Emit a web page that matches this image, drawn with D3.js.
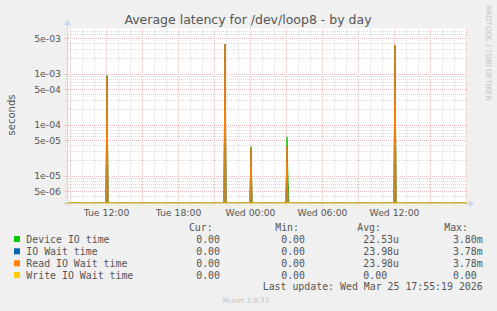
<!DOCTYPE html>
<html>
<head>
<meta charset="utf-8">
<script src="https://cdn.jsdelivr.net/npm/d3@7"></script>
<style>
  body { margin: 0; background: #f0f0f0; }
  svg { display: block; }
  text { white-space: pre; }
</style>
</head>
<body>
<div id="chart"></div>
<script>
// munin diskstats latency, one day, log scale

// spike samples (5 min resolution), zeros around each spike
var deviceIO = [
  ["2026-03-24T08:45", 0],
  ["2026-03-24T12:00", 0], ["2026-03-24T12:05", 9.3e-4], ["2026-03-24T12:10", 0],
  ["2026-03-24T21:50", 0], ["2026-03-24T21:55", 3.80e-3], ["2026-03-24T22:00", 0],
  ["2026-03-25T00:00", 0], ["2026-03-25T00:05", 3.7e-5], ["2026-03-25T00:10", 0],
  ["2026-03-25T03:00", 0], ["2026-03-25T03:05", 5.7e-5], ["2026-03-25T03:10", 8e-6], ["2026-03-25T03:15", 0],
  ["2026-03-25T12:00", 0], ["2026-03-25T12:05", 3.5e-3], ["2026-03-25T12:10", 0],
  ["2026-03-25T18:05", 0]
];
var ioWait = [
  ["2026-03-24T08:45", 0],
  ["2026-03-24T12:00", 0], ["2026-03-24T12:05", 8.8e-4], ["2026-03-24T12:10", 0],
  ["2026-03-24T21:50", 0], ["2026-03-24T21:55", 3.78e-3], ["2026-03-24T22:00", 0],
  ["2026-03-25T00:00", 0], ["2026-03-25T00:05", 3.5e-5], ["2026-03-25T00:10", 0],
  ["2026-03-25T03:00", 0], ["2026-03-25T03:05", 3.8e-5], ["2026-03-25T03:10", 0],
  ["2026-03-25T12:00", 0], ["2026-03-25T12:05", 3.65e-3], ["2026-03-25T12:10", 0],
  ["2026-03-25T18:05", 0]
];
var readWait = ioWait.slice();
var writeWait = [["2026-03-24T08:45", 0], ["2026-03-25T18:05", 0]];

var seriesNames = ["Device IO time", "IO Wait time", "Read IO Wait time", "Write IO Wait time"];
var seriesColors = ["#00cc00", "#0066b3", "#ff8000", "#ffcc00"];
var seriesData = [deviceIO, ioWait, readWait, writeWait];

var curValues = ["0.00", "0.00", "0.00", "0.00"];
var minValues = ["0.00", "0.00", "0.00", "0.00"];
var avgValues = ["22.53u", "23.98u", "23.98u", "0.00  "];
var maxValues = ["3.80m", "3.78m", "3.78m", "0.00 "];

var yTickValues = [5e-3, 1e-3, 5e-4, 1e-4, 5e-5, 1e-5, 5e-6];
var yTickLabels = ["5e-03", "1e-03", "5e-04", "1e-04", "5e-05", "1e-05", "5e-06"];
var xLabelTimes = ["2026-03-24T12:00", "2026-03-24T18:00", "2026-03-25T00:00", "2026-03-25T06:00", "2026-03-25T12:00"];
var xLabelText = ["Tue 12:00", "Tue 18:00", "Wed 00:00", "Wed 06:00", "Wed 12:00"];

var svgWidth = 497, svgHeight = 311;
var plot = { left: 67, right: 467, top: 28, bottom: 203 };

var parse = d3.isoParse;

var svg = d3.select("#chart").append("svg")
    .attr("width", svgWidth)
    .attr("height", svgHeight)
    .style("background", "#f0f0f0");

var xScale = d3.scaleTime()
    .domain([parse("2026-03-24T08:45"), parse("2026-03-25T18:05")])
    .range([plot.left, plot.right]);

var yScale = d3.scaleLog()
    .domain([2.92e-6, 7.87e-3])
    .range([plot.bottom, plot.top])
    .clamp(true);

// plot background
svg.append("rect")
    .attr("x", plot.left).attr("y", plot.top)
    .attr("width", plot.right - plot.left).attr("height", plot.bottom - plot.top)
    .attr("fill", "#ffffff");

// minor / major horizontal grid
var decades = [1e-6, 1e-5, 1e-4, 1e-3];
var minorY = [];
decades.forEach(function(d) {
  [2, 3, 4, 6, 7, 8, 9].forEach(function(m) { minorY.push(d * m); });
});
minorY = minorY.filter(function(v) { return v > 2.92e-6 && v < 7.87e-3; });

var minorColor = "#dcdcdc", majorColor = "#f0bcbc";

var grid = svg.append("g");
grid.selectAll(".hminor").data(minorY).enter().append("line")
    .attr("x1", plot.left - 2).attr("x2", plot.right)
    .attr("y1", d => Math.round(yScale(d)) + 0.5).attr("y2", d => Math.round(yScale(d)) + 0.5)
    .attr("stroke", minorColor).attr("stroke-dasharray", "1,1");

var hourTicks = d3.timeHour.every(1).range(xScale.domain()[0], xScale.domain()[1]);
var minorX = hourTicks.filter(d => d.getHours() % 3 != 0);
var majorX = hourTicks.filter(d => d.getHours() % 3 == 0);

grid.selectAll(".vminor").data(minorX).enter().append("line")
    .attr("x1", d => Math.round(xScale(d)) + 0.5).attr("x2", d => Math.round(xScale(d)) + 0.5)
    .attr("y1", plot.top).attr("y2", plot.bottom + 2)
    .attr("stroke", minorColor).attr("stroke-dasharray", "1,1");

grid.selectAll(".vmajor").data(majorX).enter().append("line")
    .attr("x1", d => Math.round(xScale(d)) + 0.5).attr("x2", d => Math.round(xScale(d)) + 0.5)
    .attr("y1", plot.top).attr("y2", plot.bottom + 3)
    .attr("stroke", majorColor).attr("stroke-dasharray", "1,1");

grid.selectAll(".hmajor").data(yTickValues).enter().append("line")
    .attr("x1", plot.left - 3).attr("x2", plot.right)
    .attr("y1", d => Math.round(yScale(d)) + 0.5).attr("y2", d => Math.round(yScale(d)) + 0.5)
    .attr("stroke", majorColor).attr("stroke-dasharray", "1,1");

// data lines
svg.append("clipPath").attr("id", "clip")
  .append("rect")
    .attr("x", plot.left).attr("y", plot.top)
    .attr("width", plot.right - plot.left).attr("height", plot.bottom - plot.top);

var drawLine = d3.line()
    .x(d => xScale(parse(d[0])))
    .y(d => d[1] > 0 ? yScale(d[1]) : plot.bottom);

var lines = svg.append("g").attr("clip-path", "url(#clip)");
seriesData.forEach(function(data, i) {
  lines.append("path")
      .datum(data)
      .attr("d", drawLine)
      .attr("fill", "#8a9a3c")
      .attr("fill-opacity", 0.6)
      .attr("stroke", seriesColors[i])
      .attr("stroke-width", 1);
});

// axes
svg.append("line")
    .attr("x1", plot.left - 3).attr("x2", plot.right + 2)
    .attr("y1", plot.bottom + 0.5).attr("y2", plot.bottom + 0.5)
    .attr("stroke", "#d8d0a0");
svg.append("path")
    .attr("d", `M${plot.right + 2},${plot.bottom - 3} L${plot.right + 7},${plot.bottom + 0.5} L${plot.right + 2},${plot.bottom + 4} Z`)
    .attr("fill", "#c8d2f4");
svg.append("line")
    .attr("x1", plot.left + 0.5).attr("x2", plot.left + 0.5)
    .attr("y1", plot.bottom + 3).attr("y2", plot.top - 3)
    .attr("stroke", "#c8d2f4");
svg.append("path")
    .attr("d", `M${plot.left - 3},${plot.top - 3} L${plot.left + 0.5},${plot.top - 8} L${plot.left + 4},${plot.top - 3} Z`)
    .attr("fill", "#c8d2f4");

var leftAxis = d3.axisLeft(yScale)
    .tickValues(yTickValues)
    .tickFormat((d, i) => yTickLabels[i])
    .tickSize(0).tickPadding(6);
var yAxis = svg.append("g")
    .attr("transform", `translate(${plot.left}, 0)`)
    .call(leftAxis);
yAxis.select(".domain").remove();
yAxis.selectAll("text")
    .attr("font-family", "DejaVu Sans").attr("font-size", 9.3).attr("fill", "#555");

var bottomAxis = d3.axisBottom(xScale)
    .tickValues(xLabelTimes.map(parse))
    .tickFormat((d, i) => xLabelText[i])
    .tickSize(0).tickPadding(6);
var xAxis = svg.append("g")
    .attr("transform", `translate(0, ${plot.bottom})`)
    .call(bottomAxis);
xAxis.select(".domain").remove();
xAxis.selectAll("text")
    .attr("font-family", "DejaVu Sans").attr("font-size", 9.3).attr("fill", "#555");

// titles
svg.append("text")
    .attr("x", 248).attr("y", 24)
    .attr("text-anchor", "middle")
    .attr("font-family", "DejaVu Sans").attr("font-size", 12.5).attr("fill", "#555")
    .text("Average latency for /dev/loop8 - by day");

svg.append("text")
    .attr("transform", "translate(15, 115) rotate(-90)")
    .attr("text-anchor", "middle")
    .attr("font-family", "DejaVu Sans").attr("font-size", 10).attr("fill", "#555")
    .text("seconds");

svg.append("text")
    .attr("transform", "translate(485.5, 53) rotate(90)")
    .attr("text-anchor", "middle")
    .attr("font-family", "DejaVu Sans").attr("font-size", 7.4).attr("fill", "#c0c0c0")
    .text("RRDTOOL / TOBI OETIKER");

// legend
var mono = "DejaVu Sans Mono";
var legend = svg.append("g").attr("font-family", mono).attr("font-size", 9.9).attr("fill", "#555");
var headers = [["Cur:", 212.7], ["Min:", 299], ["Avg:", 381], ["Max:", 468]];
headers.forEach(function(h) {
  legend.append("text").attr("x", h[1]).attr("y", 231).attr("text-anchor", "end").text(h[0]);
});
var rowY = [243, 255.3, 267.3, 279];
seriesNames.forEach(function(name, i) {
  legend.append("rect")
      .attr("x", 14).attr("y", rowY[i] - 7)
      .attr("width", 6).attr("height", 6)
      .attr("fill", seriesColors[i]);
  legend.append("text").attr("x", 26.3).attr("y", rowY[i]).text(name);
  legend.append("text").attr("x", 220).attr("y", rowY[i]).attr("text-anchor", "end").text(curValues[i]);
  legend.append("text").attr("x", 305).attr("y", rowY[i]).attr("text-anchor", "end").text(minValues[i]);
  legend.append("text").attr("x", 399).attr("y", rowY[i]).attr("text-anchor", "end").text(avgValues[i]);
  legend.append("text").attr("x", 482.7).attr("y", rowY[i]).attr("text-anchor", "end").text(maxValues[i]);
});
legend.append("text").attr("x", 482.7).attr("y", 290.3).attr("text-anchor", "end")
    .text("Last update: Wed Mar 25 17:55:19 2026");

svg.append("text")
    .attr("x", 246).attr("y", 302.5)
    .attr("text-anchor", "middle")
    .attr("font-family", "DejaVu Sans").attr("font-size", 7.1).attr("fill", "#c0c0c0")
    .text("Munin 2.0.73");
</script>
</body>
</html>
